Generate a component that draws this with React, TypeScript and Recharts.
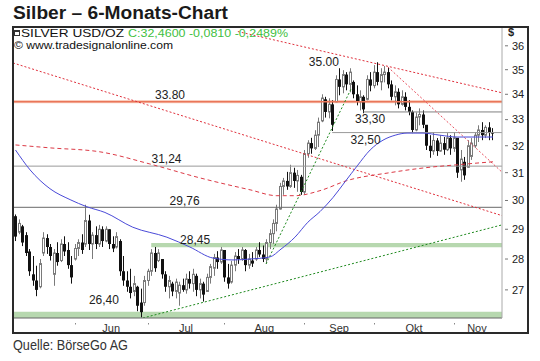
import React from 'react';
import { ComposedChart, Bar, Line, Scatter, XAxis, YAxis, ReferenceLine, ReferenceArea } from 'recharts';

// ---------- OHLC values (one bar per weekday, May 9 – Nov 15) ----------
const openVals = [29.45, 28.9, 29.1, 28.8, 28.25, 27.5, 27.3, 27.1, 28.2, 28.7, 28.4, 27.5, 28.2, 27.95, 28.5, 28.3, 27.8, 28.0, 28.35, 28.55, 28.5, 29.3, 28.5, 28.8, 28.5, 29.0, 28.6, 29.0, 28.5, 28.4, 28.6, 27.6, 27.3, 27.1, 26.95, 27.1, 26.6, 26.6, 27.3, 27.6, 28.2, 27.95, 28.0, 27.5, 27.1, 27.2, 26.95, 26.9, 27.15, 27.0, 27.35, 27.2, 27.45, 27.0, 27.2, 26.95, 27.4, 27.7, 28.05, 27.9, 28.3, 27.4, 27.25, 27.8, 28.1, 28.0, 28.3, 27.8, 27.95, 28.0, 28.3, 28.15, 28.0, 28.55, 28.85, 29.2, 29.7, 30.5, 30.7, 30.5, 31.0, 30.7, 30.85, 30.3, 31.7, 32.1, 31.9, 32.4, 32.95, 33.8, 33.3, 33.6, 33.7, 34.6, 34.3, 34.8, 34.4, 34.5, 34.0, 33.7, 33.9, 33.8, 34.6, 34.35, 34.9, 34.5, 34.8, 34.9, 34.4, 33.9, 34.1, 33.6, 33.9, 33.5, 33.3, 32.6, 33.1, 33.2, 32.8, 32.0, 31.8, 32.2, 31.8, 32.1, 31.85, 32.3, 31.9, 32.3, 31.1, 31.4, 31.2, 31.6, 32.0, 32.4, 32.6, 32.4, 32.7, 32.5];
const highVals = [29.51, 29.34, 29.15, 28.9, 28.33, 28.1, 27.78, 28.0, 28.9, 28.83, 28.5, 28.33, 28.56, 28.66, 28.76, 28.56, 28.1, 28.5, 28.66, 28.83, 29.85, 29.5, 28.9, 29.1, 29.15, 29.1, 29.1, 29.0, 28.76, 28.9, 28.66, 28.1, 27.6, 27.68, 27.45, 27.13, 27.04, 27.45, 27.68, 28.33, 28.4, 28.33, 28.0, 27.6, 27.45, 27.26, 27.36, 27.26, 27.36, 27.52, 27.6, 27.68, 27.52, 27.36, 27.26, 27.52, 27.84, 28.17, 28.26, 28.4, 28.17, 27.84, 27.94, 28.23, 28.33, 28.4, 28.33, 28.17, 28.23, 28.4, 28.56, 28.45, 28.66, 29.0, 29.34, 29.85, 30.63, 30.81, 31.03, 31.29, 31.18, 31.1, 30.92, 31.84, 32.21, 32.3, 32.59, 33.08, 34.0, 33.9, 33.84, 33.76, 34.77, 35.06, 34.98, 34.9, 35.06, 34.56, 34.36, 34.16, 33.96, 34.77, 34.9, 35.19, 35.31, 35.06, 35.15, 35.1, 34.56, 34.36, 34.24, 34.16, 34.08, 33.76, 33.36, 33.28, 33.44, 33.36, 32.78, 32.4, 32.52, 32.29, 32.4, 32.33, 32.48, 32.4, 32.52, 32.29, 31.84, 31.58, 32.21, 32.29, 32.52, 32.78, 32.9, 32.78, 32.9, 32.67];
const lowVals = [28.6, 28.83, 28.43, 28.1, 27.45, 27.13, 26.8, 27.05, 28.1, 28.17, 27.95, 27.13, 27.78, 27.9, 28.1, 27.68, 27.2, 27.95, 28.1, 28.17, 28.4, 28.3, 28.0, 28.33, 28.4, 28.4, 28.56, 28.33, 28.23, 28.35, 27.45, 27.13, 26.94, 26.73, 26.8, 26.33, 26.14, 26.5, 27.13, 27.45, 27.58, 27.9, 27.36, 26.94, 26.73, 26.8, 26.73, 26.5, 26.94, 26.88, 27.04, 26.94, 26.8, 26.73, 26.63, 26.94, 27.2, 27.45, 27.68, 27.84, 27.26, 27.04, 27.2, 27.6, 27.84, 27.94, 27.6, 27.68, 27.74, 27.94, 28.07, 27.9, 27.84, 28.33, 28.5, 28.93, 29.68, 30.2, 30.38, 30.45, 30.45, 30.31, 30.2, 30.2, 31.55, 31.7, 31.84, 31.95, 32.9, 33.08, 33.05, 32.56, 33.68, 33.96, 34.04, 34.16, 34.08, 33.84, 33.56, 33.36, 33.25, 33.76, 34.12, 34.24, 34.36, 34.16, 34.48, 34.24, 33.76, 33.56, 33.44, 33.55, 33.36, 33.17, 32.48, 32.55, 32.78, 32.67, 31.84, 31.55, 31.66, 31.62, 31.77, 31.66, 31.8, 31.66, 31.77, 30.81, 30.67, 30.74, 31.18, 31.47, 31.92, 32.14, 32.21, 32.29, 32.21, 32.21];
const closeVals = [28.75, 29.2, 28.55, 28.2, 27.6, 27.3, 27.0, 27.85, 28.7, 28.4, 28.1, 28.2, 27.9, 28.5, 28.25, 27.8, 27.4, 28.35, 28.55, 28.3, 29.3, 28.5, 28.8, 28.5, 29.0, 28.6, 29.0, 28.5, 28.35, 28.75, 27.6, 27.3, 27.1, 26.9, 27.2, 26.5, 26.3, 27.3, 27.6, 28.2, 27.7, 28.2, 27.5, 27.1, 27.3, 26.95, 27.25, 27.15, 27.0, 27.35, 27.2, 27.5, 27.0, 27.2, 26.85, 27.4, 27.75, 28.05, 27.9, 28.3, 27.4, 27.2, 27.8, 28.1, 28.0, 28.3, 27.8, 28.0, 27.85, 28.3, 28.15, 28.0, 28.55, 28.85, 29.2, 29.7, 30.5, 30.7, 30.5, 31.0, 30.7, 30.9, 30.3, 31.7, 32.1, 31.9, 32.4, 32.9, 33.85, 33.3, 33.6, 32.8, 34.6, 34.3, 34.8, 34.4, 34.9, 34.0, 33.7, 33.9, 33.4, 34.6, 34.35, 34.9, 34.5, 34.8, 34.9, 34.4, 33.9, 34.1, 33.6, 33.9, 33.5, 33.3, 32.6, 33.1, 33.2, 32.8, 32.0, 31.8, 32.2, 31.8, 32.1, 31.85, 32.3, 31.9, 32.3, 31.0, 31.5, 30.9, 32.0, 32.1, 32.4, 32.6, 32.4, 32.7, 32.5, 32.46];

// ---------- axes ----------
const monthLabels = ['Jun', 'Jul', 'Aug', 'Sep', 'Okt', 'Nov'];
const monthLabelIdx = [27.5, 49, 71.5, 93, 114.5, 132.6];
const monthStartIdx = [17, 38, 60, 83, 103, 126];
const priceTicks = [27, 28, 29, 30, 31, 32, 33, 34, 35, 36];
const X_DOMAIN = [-0.72, 139.8];
const Y_DOMAIN = [26.12, 36.85];

// ---------- moving averages ----------
const blueMaIdx = [0, 4.2, 9.9, 15.7, 20.5, 25.7, 33.7, 43.5, 50.1, 56.8, 62.5, 67.4, 73.1, 76.3, 80.3, 84.0, 87.5, 91.2, 94.7, 98.2, 101.9, 105.6, 109.1, 112.5, 117.1, 122.0, 126.9, 132.1, 137.2];
const blueMaVals = [31.84, 31.1, 30.42, 30.03, 29.78, 29.58, 29.07, 28.73, 28.4, 28.03, 27.97, 28.0, 28.07, 28.33, 28.73, 29.24, 29.61, 30.1, 30.67, 31.25, 31.84, 32.21, 32.4, 32.48, 32.48, 32.4, 32.33, 32.33, 32.33];
const redMaIdx = [0, 9.9, 24.3, 38.6, 53.0, 67.4, 75.1, 80.3, 87.5, 95.2, 107.6, 117.7, 126.9, 137.2];
const redMaVals = [32.03, 31.92, 31.77, 31.32, 30.81, 30.38, 30.17, 30.17, 30.35, 30.71, 31.0, 31.18, 31.29, 31.4];

// ---------- trend lines (start idx/value -> end idx/value) ----------
const trendFromIdx = [63.9, -0.72, 107.0, 36.6, 72.0];
const trendFromVal = [36.61, 35.28, 35.11, 26.12, 27.84];
const trendToIdx = [139.8, 139.8, 139.8, 139.8, 96.4];
const trendToVal = [34.06, 29.47, 31.02, 29.15, 34.21];
const trendStyles = [
  { stroke: '#e0303c', dash: '2 2' },
  { stroke: '#e0303c', dash: '2 2' },
  { stroke: '#e8505e', dash: '2 2' },
  { stroke: '#1f8a1f', dash: '2 2' },
  { stroke: '#1f8a1f', dash: '2 2' },
];

// ---------- level annotations ----------
const levelTexts = ['35.00', '33.80', '33,30', '32,50', '31,24', '29,76', '28,45', '26,40'];
const levelIdx = [88.6, 44.4, 101.9, 100.6, 43.4, 48.6, 51.6, 25.4];
const levelVals = [35.14, 33.81, 32.88, 32.06, 31.34, 29.85, 28.5, 26.55];

const bars = highVals.map((h, i) => ({
  i,
  range: [lowVals[i], h],
  o: openVals[i],
  h,
  l: lowVals[i],
  c: closeVals[i],
}));
const blueMa = blueMaIdx.map((i, k) => ({ i, v: blueMaVals[k] }));
const redMa = redMaIdx.map((i, k) => ({ i, v: redMaVals[k] }));
const annos = levelTexts.map((t, k) => ({ i: levelIdx[k], v: levelVals[k], t }));

const FONT = '"Liberation Sans", Arial, sans-serif';

function Candle(props: any) {
  const { x, y, width, height, payload } = props;
  if (!payload || x == null || y == null || height == null || isNaN(y)) return null;
  const top = Math.min(y, y + height);
  const bot = Math.max(y, y + height);
  const cx = Math.round(x + width / 2) + 0.5;
  const lh = Math.log(payload.h);
  const ll = Math.log(payload.l);
  const span = bot - top;
  const py = (v: number) => top + ((lh - Math.log(v)) / (lh - ll || 1)) * span;
  const up = payload.c >= payload.o;
  const bTop = py(Math.max(payload.o, payload.c));
  const bBot = py(Math.min(payload.o, payload.c));
  const bh = Math.max(1, bBot - bTop);
  const col = up ? '#7a7a7a' : '#111';
  return (
    <g>
      <line x1={cx} x2={cx} y1={top} y2={bot} stroke={col} strokeWidth={1} />
      {up ? (
        <rect x={cx - 1} y={bTop} width={2} height={bh} fill="#fff" stroke={col} strokeWidth={1} />
      ) : (
        <rect x={cx - 1.5} y={bTop} width={3} height={bh} fill={col} />
      )}
    </g>
  );
}

function XTick(props: any) {
  const { x, y, payload } = props;
  const k = monthLabelIdx.indexOf(payload.value);
  if (k >= 0) {
    return (
      <text x={x} y={y + 12} textAnchor="middle" fontSize={11} fill="#333" fontFamily={FONT}>
        {monthLabels[k]}
      </text>
    );
  }
  return <rect x={Math.round(x)} y={y + 3} width={1} height={1.5} fill="#888" />;
}

function YTick(props: any) {
  const { x, y, payload } = props;
  return (
    <g>
      <line x1={x + 1} x2={x + 4} y1={y} y2={y} stroke="#777" strokeWidth={1} />
      <text x={x + 8} y={y} dy="0.35em" fontSize={11} fill="#222" fontFamily={FONT}>
        {payload.value}
      </text>
    </g>
  );
}

function LevelLabel(props: any) {
  const { cx, cy, payload } = props;
  if (cx == null || cy == null) return null;
  return (
    <text x={cx} y={cy} textAnchor="middle" fontSize={12} fill="#222" fontFamily={FONT}>
      {payload.t}
    </text>
  );
}

export default function App() {
  return (
    <div style={{ position: 'absolute', left: 0, top: 0, width: 540, height: 361, background: '#fff', overflow: 'hidden' }}>
      <ComposedChart
        width={540}
        height={361}
        data={bars}
        margin={{ top: 26, right: 12, bottom: 28, left: 13 }}
        style={{ fontFamily: FONT }}
      >
        <XAxis
          dataKey="i"
          type="number"
          domain={X_DOMAIN}
          allowDataOverflow
          ticks={[...monthStartIdx, ...monthLabelIdx]}
          interval={0}
          tick={<XTick />}
          tickLine={false}
          tickSize={0}
          axisLine={{ stroke: '#666' }}
          height={15}
        />
        <YAxis
          orientation="right"
          type="number"
          scale="log"
          domain={Y_DOMAIN}
          allowDataOverflow
          ticks={priceTicks}
          interval={0}
          tick={<YTick />}
          tickLine={false}
          tickSize={0}
          axisLine={{ stroke: '#aaa' }}
          width={26}
          label={{
            content: (p: any) => (
              <text x={p.viewBox.x + 6} y={p.viewBox.y + 10} fontSize={11} fontWeight="bold" fill="#222" fontFamily={FONT}>
                $
              </text>
            ),
          }}
        />

        <ReferenceArea y1={Y_DOMAIN[0]} y2={26.31} fill="#b7d8af" fillOpacity={1} stroke="none" ifOverflow="hidden" />
        <ReferenceArea x1={39} x2={X_DOMAIN[1]} y1={28.39} y2={28.53} fill="#b7d8af" fillOpacity={1} stroke="none" ifOverflow="hidden" />
        <ReferenceArea y1={33.64} y2={33.77} fill="#f9cfc0" fillOpacity={1} stroke="none" ifOverflow="hidden" />
        <ReferenceLine y={33.7} stroke="#ea7659" strokeWidth={1.5} />
        <ReferenceLine y={31.24} stroke="#9a9a9a" strokeWidth={1} />
        <ReferenceLine y={29.76} stroke="#6a6a6a" strokeWidth={1} />
        <ReferenceLine segment={[{ x: 100, y: 33.3 }, { x: X_DOMAIN[1], y: 33.3 }]} stroke="#808080" strokeWidth={1} ifOverflow="hidden" />
        <ReferenceLine segment={[{ x: 91, y: 32.5 }, { x: X_DOMAIN[1], y: 32.5 }]} stroke="#9a9a9a" strokeWidth={1} ifOverflow="hidden" />

        {trendFromIdx.map((fx, k) => (
          <ReferenceLine
            key={'t' + k}
            segment={[{ x: fx, y: trendFromVal[k] }, { x: trendToIdx[k], y: trendToVal[k] }]}
            stroke={trendStyles[k].stroke}
            strokeDasharray={trendStyles[k].dash}
            strokeWidth={1}
            ifOverflow="hidden"
          />
        ))}

        <Line data={redMa} dataKey="v" type="monotone" stroke="#dc3a46" strokeWidth={1} strokeDasharray="4 3" dot={false} isAnimationActive={false} />
        <Line data={blueMa} dataKey="v" type="monotone" stroke="#4a4ad8" strokeWidth={1} dot={false} isAnimationActive={false} />

        <Bar dataKey="range" barSize={3} shape={(p: any) => <Candle {...p} />} isAnimationActive={false} />

        <Scatter data={annos} dataKey="v" shape={(p: any) => <LevelLabel {...p} />} isAnimationActive={false} />
      </ComposedChart>

      <svg width={540} height={361} style={{ position: 'absolute', left: 0, top: 0, pointerEvents: 'none' }}>
        <text x={13} y={19} fontFamily={FONT} fontWeight="bold" fontSize={19.2} textLength={215} lengthAdjust="spacingAndGlyphs" fill="#1a1a1a">
          Silber – 6-Monats-Chart
        </text>
        <rect x={13} y={27} width={515} height={306} fill="none" stroke="#2a2a2a" strokeWidth={2} />
        <rect x={14.5} y={30.5} width={5} height={5} fill="#fff" stroke="#333" strokeWidth={1} />
        <line x1={14.5} x2={19.5} y1={31.5} y2={31.5} stroke="#333" strokeWidth={1} />
        <text x={21} y={37} fontFamily={FONT} fontSize={10.5} fill="#111" textLength={103} lengthAdjust="spacingAndGlyphs">
          SILVER USD/OZ
        </text>
        <text x={128} y={37} fontFamily={FONT} fontSize={10.5} fill="#3fbf3f" textLength={160} lengthAdjust="spacingAndGlyphs">
          C:32,4600 -0,0810 -0,2489%
        </text>
        <text x={14} y={49} fontFamily={FONT} fontSize={10.5} fill="#111" textLength={159} lengthAdjust="spacingAndGlyphs">
          © www.tradesignalonline.com
        </text>
        <text x={13} y={350} fontFamily={FONT} fontSize={15} fill="#333" textLength={115} lengthAdjust="spacingAndGlyphs">
          Quelle: BörseGo AG
        </text>
      </svg>
    </div>
  );
}
